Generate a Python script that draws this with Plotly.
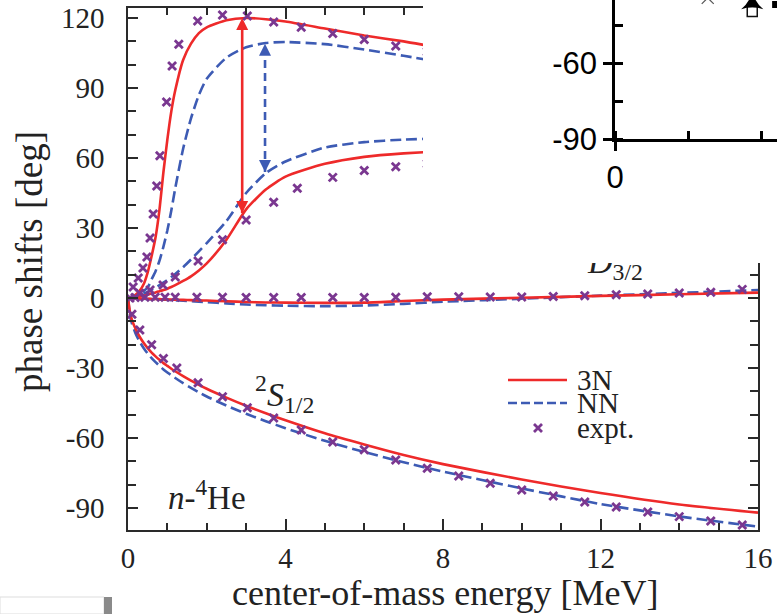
import plotly.graph_objects as go

W, H = 777, 614

# ---------------- data ----------------
E_th = [0, 0.05, 0.1, 0.2, 0.3, 0.4, 0.5, 0.6, 0.7, 0.8, 0.9, 1.0, 1.1, 1.2, 1.4, 1.6, 1.8, 2.0,
        2.5, 3.0, 3.5, 4.0, 5.0, 6.0, 7.0, 8.0, 10.0, 12.0, 14.0, 16.0]
p32_3n = [0, 0.2, 0.5, 1.5, 3.2, 6, 11, 18, 26, 38, 54, 68, 80, 89, 102, 109, 113.5, 116,
          119, 120, 119.5, 118.5, 115.5, 112.5, 110, 107, 102, 97, 93, 89]
p32_nn = [0, 0.1, 0.3, 0.8, 1.6, 3, 4.5, 8, 11.5, 16, 22, 29, 37.5, 47, 64, 77, 87, 94,
          103, 107.5, 109.3, 109.7, 108.8, 106.5, 103.8, 101, 96, 91, 87, 83]
p12_3n = [0, 0.05, 0.15, 0.4, 0.7, 1.0, 1.4, 2.0, 2.4, 2.9, 3.4, 4.0, 4.7, 5.5, 7.3, 9.3, 11.8, 14.8,
          25, 38, 46.5, 52, 57.5, 60.5, 62, 62.8, 63, 62, 60.5, 59]
p12_nn = [0, 0.1, 0.3, 0.7, 1.2, 1.8, 2.6, 3.5, 4.5, 5.5, 6.6, 7.7, 9.0, 10.3, 13.2, 16.5, 20, 23.5,
          33, 45, 53.5, 58.5, 64.5, 66.8, 67.9, 68.4, 68.5, 67.5, 66, 64]
d32_3n = [0, -0.05, -0.1, -0.2, -0.25, -0.3, -0.35, -0.4, -0.45, -0.5, -0.55, -0.6, -0.65, -0.7,
          -0.8, -0.9, -1.0, -1.1, -1.4, -1.7, -1.9, -2.0, -2.1, -2.0, -1.3, -0.7, 0.1, 0.9, 1.6, 2.3]
d32_nn = [0, -0.05, -0.1, -0.2, -0.3, -0.35, -0.4, -0.5, -0.55, -0.6, -0.7, -0.8, -0.9, -1.0,
          -1.2, -1.4, -1.6, -1.8, -2.3, -2.8, -3.1, -3.3, -3.5, -3.2, -2.5, -1.6, -0.3, 1.0, 2.2, 3.4]
s12_3n = [0, -6, -9.4, -13.5, -16.7, -19.3, -21.5, -23.4, -25, -26.5, -27.9, -29.1, -30.3, -31.4,
          -33.5, -35.4, -37.2, -38.9, -42.7, -46.2, -49.4, -52.4, -58, -62.8, -67.3, -71.2, -77.8,
          -83.6, -88.5, -92]
s12_nn = [0, -7.5, -11, -15.5, -18.8, -21.5, -23.8, -25.8, -27.5, -29.1, -30.6, -31.9, -33.1, -34.3,
          -36.5, -38.5, -40.4, -42.2, -46.1, -49.6, -52.8, -55.8, -61.2, -66, -70.4, -74.4, -81.6,
          -88.3, -93.6, -98]

# experimental phase shifts
E_exp_p32 = [0.13, 0.26, 0.38, 0.48, 0.56, 0.64, 0.73, 0.81, 0.98, 1.12, 1.29, 1.77, 2.4, 3.03,
             3.7, 4.4, 5.2, 6.0, 6.8, 7.6]
exp_p32 = [4.7, 8.6, 12.9, 17.6, 25.7, 36, 48, 61, 84, 99.4, 108.8, 118.7, 121.3, 120.9,
           118.3, 116, 113.4, 110.8, 108, 105.5]
E_exp_p12 = [0.3, 0.56, 0.89, 1.2, 1.78, 2.4, 3.0, 3.7, 4.3, 5.2, 6.0, 6.8, 7.6]
exp_p12 = [2, 3.4, 5.6, 9, 15.9, 25, 33.4, 41, 47, 51.7, 54.6, 56.3, 57.5]
E_exp_d = [0.05, 0.18, 0.43, 0.69, 0.94, 1.2, 1.75, 2.4, 3.0, 3.7, 4.4, 5.2, 6.0, 6.8, 7.6, 8.4,
           9.2, 10.0, 10.8, 11.6, 12.4, 13.2, 14.0, 14.8, 15.6]
exp_d = [0, 0.2, 0.3, 0.3, 0.3, 0.3, 0.3, 0.3, 0.2, 0.2, 0.2, 0.2, 0.2, 0.3, 0.5, 0.5,
         0.4, 0.4, 0.6, 1.0, 1.4, 1.7, 2.1, 2.5, 3.7]
E_exp_s = [0.1, 0.3, 0.6, 0.9, 1.24, 1.78, 2.4, 3.03, 3.7, 4.4, 5.2, 6.0, 6.8, 7.6, 8.4, 9.2,
           10.0, 10.8, 11.6, 12.4, 13.2, 14.0, 14.8, 15.6]
exp_s = [-7, -13.7, -20, -25.9, -30, -36.3, -42.3, -47, -51.4, -56.6, -61.7, -65, -69.4, -73,
         -76.3, -79.4, -82.3, -84.9, -87.4, -89.6, -91.7, -93.7, -95.6, -97.3]

# splitting arrows (energy, top, bottom)
arrow_E = [2.9, 3.48]
arrow_top = [120, 109]
arrow_bot = [36.4, 54]

# wave labels
lab_E = [3.98, 12.23]
lab_y = [-42.5, 14.4]
lab_text = ["<sup>2</sup><i>S</i><sub>1/2</sub>", "<sup>2</sup><i>D</i><sub>3/2</sub>"]

y_ticks = [-90, -60, -30, 0, 30, 60, 90, 120]
y_ticktext = ["-90", "-60", "-30", "0", "30", "60", "90", "120"]
x_ticks = [0, 4, 8, 12, 16]

# overlapping fragment of another figure (inset)
ins_x_cross = [1.27]
ins_y_cross = [-34.3]
ins_x_tri = [1.88]
ins_y_tri = [-36.3]
ins_x_sq_open = [1.88]
ins_y_sq_open = [-39.7]
ins_x_sq = [2.2]
ins_y_sq = [-36.9]
ins_yticks = [-90, -60]
ins_yticktext = ["-90", "-60"]

# ---------------- styling ----------------
RED = "#EE2A2A"
BLUE = "#3D5BB4"
PURP = "#7A3790"
AX = "#2a2a2a"
SERIF = "Liberation Serif"

def px(x):
    return x / W

def py(y):
    return 1 - y / H

fig = go.Figure()

line_kw = dict(shape="spline", smoothing=0.6)

# NN dashed curves
for ys in [p32_nn, p12_nn, d32_nn, s12_nn]:
    fig.add_trace(go.Scatter(x=E_th, y=ys, mode="lines",
                             line=dict(color=BLUE, width=2.6, dash="11px,5px", **line_kw),
                             showlegend=False, hoverinfo="skip"))
# 3N solid curves
for ys in [p32_3n, p12_3n, d32_3n, s12_3n]:
    fig.add_trace(go.Scatter(x=E_th, y=ys, mode="lines",
                             line=dict(color=RED, width=2.6, **line_kw),
                             showlegend=False, hoverinfo="skip"))
# experiment
for xs, ys in [(E_exp_p32, exp_p32), (E_exp_p12, exp_p12), (E_exp_d, exp_d), (E_exp_s, exp_s)]:
    fig.add_trace(go.Scatter(x=xs, y=ys, mode="markers",
                             marker=dict(symbol="x-thin", size=8, color=PURP,
                                         line=dict(width=2.8, color=PURP)),
                             showlegend=False, hoverinfo="skip"))
# arrows
for i, (col, dash) in enumerate([(RED, "solid"), (BLUE, "8px,5px")]):
    fig.add_trace(go.Scatter(x=[arrow_E[i], arrow_E[i]], y=[arrow_bot[i], arrow_top[i]],
                             mode="lines+markers",
                             line=dict(color=col, width=2.6, dash=dash),
                             marker=dict(symbol=["arrow-down", "arrow-up"], size=12, color=col,
                                         line=dict(width=0)),
                             showlegend=False, hoverinfo="skip"))
# wave labels
fig.add_trace(go.Scatter(x=lab_E, y=lab_y, mode="text", text=lab_text,
                         textfont=dict(family=SERIF, size=34, color="#222"),
                         textposition="middle center", showlegend=False, hoverinfo="skip"))

# cover (white sheet of an overlapping figure)
fig.add_trace(go.Scatter(x=[0, 1, 1, 0, 0], y=[0, 0, 1, 1, 0], mode="lines", fill="toself",
                         fillcolor="white", line=dict(width=0, color="white"),
                         xaxis="x2", yaxis="y2", showlegend=False, hoverinfo="skip"))
# inset fragment markers
fig.add_trace(go.Scatter(x=ins_x_cross, y=ins_y_cross, mode="markers", xaxis="x3", yaxis="y3",
                         marker=dict(symbol="x-thin", size=12, color="#555",
                                     line=dict(width=1.2, color="#555")),
                         showlegend=False, hoverinfo="skip"))
fig.add_trace(go.Scatter(x=ins_x_sq_open, y=ins_y_sq_open, mode="markers", xaxis="x3", yaxis="y3",
                         marker=dict(symbol="square-open", size=10, color="#111",
                                     line=dict(width=1.5)),
                         showlegend=False, hoverinfo="skip"))
fig.add_trace(go.Scatter(x=ins_x_tri, y=ins_y_tri, mode="markers", xaxis="x3", yaxis="y3",
                         marker=dict(symbol="star-triangle-up", size=16, color="#000"),
                         showlegend=False, hoverinfo="skip"))
fig.add_trace(go.Scatter(x=ins_x_sq, y=ins_y_sq, mode="markers", xaxis="x3", yaxis="y3",
                         marker=dict(symbol="square", size=7, color="#000"),
                         showlegend=False, hoverinfo="skip"))

tickfont = dict(family=SERIF, size=29, color="#222")
fig.update_layout(
    width=W, height=H, template="none",
    margin=dict(l=0, r=0, t=0, b=0, pad=0),
    paper_bgcolor="white", plot_bgcolor="white",
    showlegend=False,
    xaxis=dict(domain=[px(128), px(758)], range=[0, 16], anchor="y",
               showline=True, mirror="ticks", linecolor=AX, linewidth=1.6,
               ticks="inside", ticklen=11, tickwidth=1.5, tickcolor=AX,
               tickmode="array", tickvals=x_ticks,
               minor=dict(tickmode="linear", tick0=0, dtick=1, ticks="inside", ticklen=7,
                          tickwidth=1.5, tickcolor=AX, showgrid=False),
               showgrid=False, zeroline=False, tickfont=tickfont, ticklabelstandoff=1),
    yaxis=dict(domain=[py(530), py(8)], range=[-99.43, 124.29], anchor="x",
               showline=True, mirror="ticks", linecolor=AX, linewidth=1.6,
               ticks="inside", ticklen=10, tickwidth=1.5, tickcolor=AX,
               tickmode="array", tickvals=y_ticks, ticktext=y_ticktext,
               minor=dict(tickmode="linear", tick0=0, dtick=10, ticks="inside", ticklen=8,
                          tickwidth=1.5, tickcolor=AX, showgrid=False),
               showgrid=False, zeroline=False, tickfont=tickfont, ticklabelstandoff=16),
    xaxis2=dict(domain=[px(423), 1], range=[0, 1], anchor="y2", visible=False),
    yaxis2=dict(domain=[py(263), 1], range=[0, 1], anchor="x2", visible=False),
    xaxis3=dict(domain=[px(615), 1], range=[0, 2.219], anchor="y3",
                showline=True, linecolor="#000", linewidth=2.5,
                ticks="outside", ticklen=9, tickwidth=2.5, tickcolor="#000",
                tickmode="array", tickvals=[0],
                minor=dict(tickmode="linear", tick0=0, dtick=1, ticks="inside", ticklen=8,
                           tickwidth=2.5, tickcolor="#000", showgrid=False),
                showgrid=False, zeroline=False, ticklabelstandoff=0,
                tickfont=dict(family="Liberation Sans", size=31, color="#000")),
    yaxis3=dict(domain=[py(139), 1], range=[-90, -35.13], anchor="x3",
                showline=True, linecolor="#000", linewidth=2.5,
                ticks="outside", ticklen=9, tickwidth=2.5, tickcolor="#000",
                tickmode="array", tickvals=ins_yticks, ticktext=ins_yticktext,
                minor=dict(tickmode="linear", tick0=-90, dtick=15, ticks="inside", ticklen=8,
                           tickwidth=2.5, tickcolor="#000", showgrid=False),
                showgrid=False, zeroline=False,
                tickfont=dict(family="Liberation Sans", size=31, color="#000")),
)

# axis titles and other texts
fig.add_annotation(x=px(445), y=py(593), xref="paper", yref="paper", showarrow=False,
                   text="center-of-mass energy [MeV]", xanchor="center", yanchor="middle",
                   font=dict(family=SERIF, size=36, color="#222"))
fig.add_annotation(x=px(29), y=py(262), xref="paper", yref="paper", showarrow=False,
                   text="phase shifts [deg]", textangle=-90, xanchor="center", yanchor="middle",
                   font=dict(family=SERIF, size=37, color="#222"))
fig.add_annotation(x=px(207), y=py(495), xref="paper", yref="paper", showarrow=False,
                   text="<i>n</i>-<sup>4</sup>He", xanchor="center", yanchor="middle",
                   font=dict(family=SERIF, size=33, color="#222"))

# legend (manual, tight spacing as in the original)
leg_items = [("3N", RED, "solid", 380), ("NN", BLUE, "9px,4px", 403), ("expt.", PURP, None, 428)]
for name, col, dash, yy in leg_items:
    if dash is not None:
        fig.add_shape(type="line", xref="paper", yref="paper", x0=px(508), x1=px(567),
                      y0=py(yy), y1=py(yy), line=dict(color=col, width=2.6, dash=dash))
    else:
        d = 4.0
        path = (f"M{px(538-d)},{py(yy-d)} L{px(538+d)},{py(yy+d)} "
                f"M{px(538-d)},{py(yy+d)} L{px(538+d)},{py(yy-d)}")
        fig.add_shape(type="path", xref="paper", yref="paper", path=path,
                      line=dict(color=col, width=2.8))
    fig.add_annotation(x=px(575), y=py(yy), xref="paper", yref="paper", showarrow=False,
                       text=name, xanchor="left", yanchor="middle",
                       font=dict(family=SERIF, size=29, color="#222"))

# cropped piece of a neighbouring figure at bottom-left
fig.add_shape(type="rect", xref="paper", yref="paper", x0=0, x1=px(104), y0=py(614), y1=py(597),
              line=dict(color="#dddddd", width=1), fillcolor="white", layer="above")
fig.add_shape(type="rect", xref="paper", yref="paper", x0=px(104), x1=px(112), y0=py(614), y1=py(597),
              line=dict(width=0), fillcolor="#8a8a8a", layer="above")

fig.write_html("out.html")
